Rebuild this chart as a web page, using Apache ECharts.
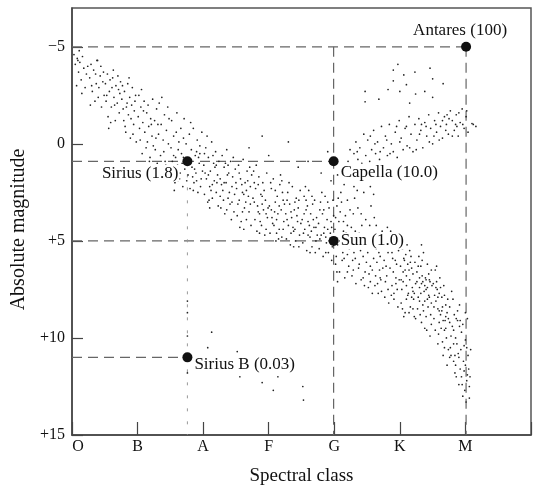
<!DOCTYPE html>
<html><head><meta charset="utf-8">
<script src="https://cdn.jsdelivr.net/npm/echarts@6/dist/echarts.min.js"></script>
<style>html,body{margin:0;padding:0;background:#fff}#c{width:534px;height:491px}</style>
</head><body><div id="c"></div>
<script>
// Spectral classes at x = 0..6
const spectralClasses = ['O','B','A','F','G','K','M'];
const magnitudeTicks = [-5, 0, 5, 10, 15];

// Named stars: [id, label, spectral position, absolute magnitude]
const namedStars = [
  ['Antares','Antares (100)',6.01,-5.0],
  ['Sirius','Sirius (1.8)',1.76,0.9],
  ['Capella','Capella (10.0)',3.99,0.9],
  ['Sun','Sun (1.0)',3.99,5.0],
  ['SiriusB','Sirius B (0.03)',1.76,11.0]
];

// Guide lines (dashed)
const guideLines = [
  [[0,-5],[6.01,-5]],
  [[6.01,-5],[6.01,15]],
  [[3.99,-5],[3.99,15]],
  [[0,0.9],[3.99,0.9]],
  [[0,5],[3.99,5]],
  [[0,11],[1.76,11]]
];
const faintGuideLines = [
  [[1.76,0.9],[1.76,15]]
];

const mainSequence = [
[0.03,-4.6],[0.05,-4.1],[0.08,-4.4],[0.1,-3.7],[0.12,-4.2],[0.14,-3.3],[0.16,-4.5],[0.18,-3.9],[0.2,-2.9],[0.22,-3.6],[0.24,-4.0],[0.07,-3.0],[0.15,-2.6],[0.11,-4.8],[0.38,-4.3],[0.09,-4.3],
[0.27,-3.4],[0.29,-4.1],[0.31,-2.7],[0.33,-3.8],[0.35,-2.2],[0.37,-3.1],[0.39,-4.3],[0.41,-2.9],[0.43,-3.5],[0.45,-1.9],[0.47,-3.2],[0.49,-2.5],[0.28,-2.0],[0.36,-3.6],[0.44,-4.0],[0.30,-3.0],[0.40,-2.4],[0.48,-3.7],
[0.51,-3.1],[0.52,-2.2],[0.54,-3.6],[0.55,-1.4],[0.57,-2.7],[0.58,-3.3],[0.60,-1.9],[0.61,-2.9],[0.63,-3.8],[0.64,-2.4],[0.66,-1.2],[0.67,-3.0],[0.69,-2.1],[0.70,-3.5],[0.72,-1.6],[0.73,-2.6],[0.74,-3.2],[0.53,-2.5],[0.59,-1.1],[0.65,-2.0],[0.71,-2.8],[0.56,-0.8],[0.62,-3.4],
[0.76,-2.3],[0.77,-3.0],[0.79,-1.2],[0.80,-2.7],[0.82,-0.6],[0.83,-1.9],[0.85,-3.1],[0.86,-1.5],[0.88,-2.4],[0.89,-0.3],[0.91,-2.0],[0.92,-2.9],[0.94,-1.0],[0.95,-1.7],[0.97,-2.5],[0.98,-0.1],[0.78,-1.8],[0.84,-2.1],[0.90,-1.3],[0.96,-2.2],[0.81,-0.9],[0.93,-0.5],[0.87,-3.4],
[1.01,-1.4],[1.02,-2.5],[1.04,-0.2],[1.05,-1.9],[1.07,0.5],[1.08,-1.1],[1.10,-2.2],[1.11,-0.6],[1.13,0.2],[1.14,-1.6],[1.16,-2.0],[1.17,-0.9],[1.19,0.7],[1.20,-1.3],[1.22,-0.4],[1.23,-2.3],[1.24,0.1],[1.03,-0.8],[1.09,-1.7],[1.15,-0.1],[1.21,-1.0],[1.06,-2.8],[1.18,0.9],
[1.26,-1.2],[1.27,0.3],[1.29,-1.8],[1.30,1.0],[1.32,-0.5],[1.33,-2.1],[1.35,0.6],[1.36,-1.0],[1.38,1.5],[1.39,-0.2],[1.41,-1.5],[1.42,0.9],[1.44,-0.7],[1.45,1.7],[1.47,0.0],[1.48,-1.3],[1.28,-0.3],[1.34,1.3],[1.40,0.4],[1.46,-1.9],[1.31,-1.0],[1.43,1.1],[1.37,-2.4],
[1.51,0.2],[1.52,-1.2],[1.54,1.4],[1.55,-0.4],[1.57,2.0],[1.58,0.7],[1.60,-1.6],[1.61,1.1],[1.63,-0.1],[1.64,1.8],[1.66,-0.8],[1.67,0.5],[1.69,2.2],[1.70,-0.3],[1.72,1.3],[1.73,0.9],[1.53,0.9],[1.59,-0.6],[1.65,1.5],[1.71,-1.3],[1.56,2.4],[1.62,0.3],[1.68,1.0],[1.74,0.0],
[1.77,1.6],[1.79,-0.5],[1.80,2.3],[1.82,0.3],[1.83,1.2],[1.85,-0.8],[1.86,2.0],[1.88,0.6],[1.89,1.5],[1.91,-0.2],[1.92,2.5],[1.94,1.0],[1.95,0.1],[1.97,1.8],[1.98,-0.6],[1.78,0.8],[1.84,1.7],[1.90,0.4],[1.96,2.2],[1.81,-1.1],[1.87,1.3],[1.93,0.7],[1.99,1.4],
[2.01,1.1],[2.02,2.6],[2.04,0.2],[2.05,1.8],[2.07,3.0],[2.08,0.7],[2.10,2.2],[2.11,1.4],[2.13,-0.1],[2.14,2.8],[2.16,1.0],[2.17,1.9],[2.19,0.4],[2.20,2.5],[2.22,1.6],[2.23,3.2],[2.24,0.9],[2.03,1.5],[2.09,2.9],[2.15,0.6],[2.21,2.0],[2.06,-0.4],[2.12,2.4],[2.18,1.2],
[2.26,1.8],[2.27,3.3],[2.29,0.6],[2.30,2.4],[2.32,1.2],[2.33,3.6],[2.35,2.0],[2.36,0.3],[2.38,2.8],[2.39,1.5],[2.41,3.1],[2.42,0.9],[2.44,2.2],[2.45,1.7],[2.47,3.5],[2.48,2.6],[2.28,2.1],[2.34,1.0],[2.40,2.5],[2.46,0.7],[2.31,2.9],[2.37,1.6],[2.43,3.9],[2.49,1.3],
[2.51,2.3],[2.52,3.7],[2.54,1.1],[2.55,2.9],[2.57,1.8],[2.58,4.0],[2.60,2.5],[2.61,0.8],[2.63,3.3],[2.64,2.0],[2.66,3.9],[2.67,1.4],[2.69,2.7],[2.70,3.5],[2.72,2.2],[2.73,4.2],[2.74,1.6],[2.53,3.1],[2.59,2.1],[2.65,3.0],[2.71,1.2],[2.56,4.3],[2.62,2.6],[2.68,1.9],
[2.76,2.8],[2.77,1.4],[2.79,3.9],[2.80,2.3],[2.82,4.5],[2.83,3.2],[2.85,1.7],[2.86,3.6],[2.88,2.6],[2.89,4.2],[2.91,2.0],[2.92,3.4],[2.94,4.7],[2.95,2.9],[2.97,1.5],[2.98,3.8],[2.78,3.0],[2.84,2.1],[2.90,3.1],[2.96,4.4],[2.81,1.1],[2.87,4.0],[2.93,2.4],[2.99,3.3],
[3.01,3.2],[3.02,4.6],[3.04,2.3],[3.05,3.8],[3.07,1.8],[3.08,4.2],[3.10,3.0],[3.11,5.0],[3.13,2.7],[3.14,3.6],[3.16,4.4],[3.17,2.1],[3.19,3.4],[3.20,4.8],[3.22,2.9],[3.23,4.0],[3.24,3.1],[3.03,2.0],[3.09,3.5],[3.15,4.9],[3.21,2.5],[3.06,4.1],[3.12,3.9],[3.18,1.6],
[3.26,3.6],[3.27,4.9],[3.29,2.5],[3.30,4.2],[3.32,3.1],[3.33,5.2],[3.35,3.8],[3.36,2.2],[3.38,4.5],[3.39,3.4],[3.41,5.0],[3.42,2.8],[3.44,4.0],[3.45,3.3],[3.47,4.7],[3.48,2.4],[3.28,3.9],[3.34,4.6],[3.40,3.0],[3.46,5.3],[3.31,2.0],[3.37,4.3],[3.43,3.7],[3.49,4.1],
[3.51,3.9],[3.52,5.1],[3.54,2.7],[3.55,4.4],[3.57,3.4],[3.58,5.5],[3.60,4.0],[3.61,2.4],[3.63,4.8],[3.64,3.6],[3.66,5.3],[3.67,3.1],[3.69,4.3],[3.70,2.9],[3.72,5.0],[3.73,3.8],[3.53,4.6],[3.59,3.2],[3.65,4.5],[3.71,5.6],[3.56,2.2],[3.62,4.2],[3.68,3.9],[3.74,4.7],
[3.76,4.1],[3.77,5.4],[3.79,3.0],[3.80,4.7],[3.82,3.6],[3.83,5.8],[3.85,4.3],[3.86,2.7],[3.88,5.1],[3.89,3.9],[3.91,5.6],[3.92,3.3],[3.94,4.6],[3.95,4.0],[3.97,5.3],[3.98,2.9],[3.78,4.9],[3.84,3.4],[3.90,4.4],[3.96,6.0],[3.81,2.5],[3.87,4.8],[3.93,5.0],[3.99,3.7],
[4.01,4.4],[4.02,6.2],[4.04,3.2],[4.05,5.2],[4.07,4.0],[4.08,6.6],[4.10,4.8],[4.11,3.0],[4.13,5.6],[4.14,4.5],[4.16,6.9],[4.17,3.7],[4.19,5.0],[4.20,4.2],[4.22,6.3],[4.23,5.4],[4.03,5.8],[4.09,3.5],[4.15,5.9],[4.21,4.7],[4.06,2.8],[4.12,6.0],[4.18,4.6],[4.24,3.4],[4.05,7.1],[4.20,5.7],
[4.26,5.0],[4.27,6.8],[4.29,3.6],[4.30,5.6],[4.32,4.5],[4.33,7.2],[4.35,5.3],[4.36,3.3],[4.38,6.2],[4.39,4.9],[4.41,7.0],[4.42,4.2],[4.44,5.8],[4.45,5.1],[4.47,6.6],[4.48,3.9],[4.28,6.0],[4.34,4.7],[4.40,5.5],[4.46,7.3],[4.31,2.8],[4.37,6.4],[4.43,5.2],[4.49,6.1],[4.30,2.2],[4.45,2.5],
[4.51,5.6],[4.52,7.4],[4.54,4.2],[4.55,6.3],[4.57,5.1],[4.58,7.7],[4.60,5.9],[4.61,3.8],[4.63,6.8],[4.64,5.4],[4.66,7.2],[4.67,4.7],[4.69,6.5],[4.70,5.8],[4.72,7.6],[4.73,4.5],[4.53,6.7],[4.59,5.0],[4.65,6.1],[4.71,7.0],[4.56,3.2],[4.62,7.3],[4.68,5.6],[4.74,6.4],[4.60,2.6],
[4.76,6.0],[4.77,7.9],[4.79,4.9],[4.80,6.8],[4.82,5.6],[4.83,8.2],[4.85,6.4],[4.86,4.5],[4.88,7.3],[4.89,5.9],[4.91,7.7],[4.92,5.2],[4.94,6.9],[4.95,6.2],[4.97,8.4],[4.98,5.5],[4.78,7.1],[4.84,5.3],[4.90,6.6],[4.96,7.5],[4.81,4.3],[4.87,7.8],[4.93,6.0],[4.99,7.0],
[5.01,6.3],[5.02,8.2],[5.04,5.4],[5.05,7.1],[5.07,6.0],[5.08,8.7],[5.10,6.8],[5.11,5.2],[5.13,7.7],[5.14,6.5],[5.16,8.4],[5.17,5.8],[5.19,7.4],[5.20,6.7],[5.22,8.9],[5.23,6.1],[5.03,7.5],[5.09,5.7],[5.15,7.0],[5.21,8.0],[5.06,8.9],[5.12,6.2],[5.18,7.9],[5.24,7.2],[5.05,6.6],[5.15,5.5],[5.20,7.6],[5.10,8.0],
[5.26,6.6],[5.27,8.5],[5.29,5.8],[5.30,7.4],[5.32,6.3],[5.33,9.2],[5.35,7.1],[5.36,5.6],[5.38,8.1],[5.39,6.9],[5.41,9.6],[5.42,6.2],[5.44,7.8],[5.45,7.0],[5.47,8.8],[5.48,6.5],[5.28,7.9],[5.34,6.0],[5.40,7.5],[5.46,9.9],[5.31,8.8],[5.37,7.6],[5.43,8.4],[5.49,7.3],[5.30,6.9],[5.35,8.3],[5.40,7.0],[5.45,7.9],[5.33,7.2],[5.42,7.4],[5.38,9.5],[5.48,8.2],
[5.51,7.2],[5.52,9.0],[5.54,6.5],[5.55,8.1],[5.57,7.5],[5.58,10.3],[5.60,8.6],[5.61,6.9],[5.63,9.5],[5.64,7.9],[5.66,10.9],[5.67,7.3],[5.69,9.1],[5.70,8.3],[5.72,11.4],[5.73,8.0],[5.53,7.8],[5.59,9.8],[5.65,8.4],[5.71,10.0],[5.56,6.3],[5.62,8.8],[5.68,9.6],[5.74,9.0],[5.55,7.4],[5.60,7.7],[5.65,10.2],[5.70,8.9],[5.58,8.5],[5.68,7.8],
[5.76,8.4],[5.77,10.5],[5.79,7.6],[5.80,9.4],[5.82,11.2],[5.83,8.8],[5.85,10.0],[5.86,12.0],[5.88,9.1],[5.89,10.8],[5.91,8.3],[5.92,11.6],[5.94,9.7],[5.78,9.9],[5.81,8.0],[5.84,11.8],[5.87,10.3],[5.90,12.4],[5.93,10.6],[5.76,11.0],[5.82,9.6],[5.88,8.6],[5.91,9.4],[5.85,11.4],
[5.96,9.3],[5.97,11.2],[5.99,12.7],[6.00,10.1],[6.02,12.2],[6.03,9.0],[6.05,11.6],[6.06,13.1],[6.08,10.6],[5.98,10.4],[6.01,13.3],[6.04,10.9],[6.07,12.0],[5.95,12.4],[6.00,8.7],[6.03,11.9],
[1.55,0.6],[1.62,1.9],[1.70,0.7],[1.80,1.0],[1.85,2.4],[1.90,1.9],[1.75,1.9],[1.95,0.5],
[2.02,0.5],[2.08,1.6],[2.14,2.1],[2.20,1.1],[2.26,2.7],[2.32,2.0],[2.38,1.1],[2.44,3.0],[2.50,2.0],[2.10,3.3],[2.36,3.4],
[2.55,1.5],[2.60,3.5],[2.66,2.4],[2.72,3.1],[2.78,2.0],[2.84,3.5],[2.90,2.7],[2.96,3.6],[2.62,4.4],[2.86,4.6],
[3.04,3.4],[3.10,2.4],[3.16,3.2],[3.22,4.4],[3.28,2.9],[3.34,3.5],[3.40,4.4],[3.46,2.9],[3.12,4.6],[3.38,5.3],[3.20,1.9],
[3.54,3.6],[3.60,4.7],[3.66,2.7],[3.72,4.3],[3.78,3.4],[3.84,4.6],[3.90,3.0],[3.96,4.3],[3.63,5.6],[3.87,5.6],[3.57,2.9],
[4.02,3.8],[4.08,5.0],[4.14,4.0],[4.20,6.6],[4.26,4.3],[4.32,5.9],[4.38,4.6],[4.44,6.9],[4.04,6.6],[4.17,5.3],[4.41,3.6],[4.29,6.5],
[4.52,4.8],[4.58,6.5],[4.64,4.2],[4.70,6.9],[4.76,5.2],[4.82,7.5],[4.88,5.6],[4.94,7.2],[4.55,7.1],[4.79,6.3],[4.91,8.0],[4.67,7.7],
[5.02,7.0],[5.06,5.9],[5.10,7.3],[5.14,8.7],[5.18,6.4],[5.22,7.7],[5.26,7.1],[5.30,8.1],[5.34,6.8],[5.38,7.3],[5.42,8.0],[5.46,7.1],[5.04,8.5],[5.12,7.8],[5.20,8.5],[5.28,6.3],[5.36,8.6],[5.44,6.7],[5.48,9.3],[5.32,7.7],[5.40,8.9],[5.24,9.0],[5.16,6.1],[5.08,6.5],
[5.52,8.4],[5.56,7.1],[5.60,9.2],[5.64,8.6],[5.68,10.5],[5.72,8.7],[5.76,9.2],[5.54,9.6],[5.62,7.4],[5.70,9.5],[5.78,10.9],[5.66,9.1],[5.58,7.9],[5.74,10.6],
[5.82,10.3],[5.86,9.0],[5.90,11.0],[5.94,12.0],[5.98,11.7],[6.02,10.5],[6.06,12.5],[5.84,10.9],[5.92,9.1],[6.00,11.4],[5.96,13.0]
];

const giants = [
[4.21,0.9],[4.24,0.3],[4.27,1.1],[4.30,0.5],[4.33,-0.1],[4.36,0.8],[4.39,0.2],[4.42,1.0],[4.45,-0.5],[4.48,0.6],[4.51,-0.2],[4.54,0.9],[4.57,0.3],[4.60,-0.7],[4.63,0.5],[4.66,-0.1],[4.69,0.8],[4.72,-0.9],[4.75,0.2],[4.78,-0.4],[4.81,0.6],[4.84,-1.0],[4.87,0.0],[4.90,0.4],[4.93,-0.6],[4.96,0.7],[4.99,-1.2],[5.02,-0.3],[5.05,0.3],[5.08,-0.8],[5.11,0.1],[5.14,-1.4],[5.17,-0.5],[5.20,0.4],[5.23,-1.0],[5.26,-0.2],[5.29,-1.3],[5.32,-0.7],[5.35,0.2],[5.38,-1.1],[5.41,-0.4],[5.44,-1.5],[5.47,-0.8],[5.50,0.0],[5.53,-1.2],[5.56,-0.6],[5.59,-1.6],[5.62,-0.9],[5.65,-0.3],[5.68,-1.4],[5.71,-1.0],[5.74,-0.5],[5.77,-1.7],[5.80,-1.2],[5.83,-0.7],[5.86,-1.5],[5.89,-0.4],[5.92,-1.1],[5.95,-1.8],[5.98,-0.8],[6.01,-1.4],[6.04,-0.6],[4.35,0.4],[4.55,-0.4],[4.70,0.4],[4.85,0.5],[5.00,-0.1],[5.10,-0.9],[5.25,0.3],[5.30,-0.5],[5.40,-0.9],[5.45,-0.1],[5.55,-1.0],[5.60,-0.2],[5.65,-1.2],[5.70,-0.7],[5.75,-1.3],[5.80,-0.4],[5.85,-1.0],[5.90,-1.6],[5.96,-1.0],[6.02,-1.7],[5.33,-1.0],[5.52,-0.4],[5.72,-1.5],[5.87,-0.9],[4.62,0.0],[4.80,-0.2],[4.95,-0.9],[5.15,0.2],[6.12,-1.0],[6.16,-0.9]
];

const subgiants = [
[4.05,1.6],[4.15,2.1],[4.25,1.5],[4.35,2.4],[4.45,1.8],[4.55,2.2],[4.10,2.5],[4.40,1.4],[3.95,1.9],[4.20,2.9],
[2.7,0.2],[3.0,0.6],[3.3,-0.1],[3.6,0.9],[3.9,0.4],[2.9,-0.4],[3.45,1.2],[3.8,1.5]
];

const supergiants = [
[4.9,-3.8],[4.97,-4.1],[4.9,-3.25],[5.1,-3.05],[4.47,-2.7],[5.0,-2.7],[5.24,-2.57],[4.47,-2.17],[5.15,-2.1],[5.46,-3.9],[5.5,-3.35],[5.66,-3.1],[5.23,-3.7],[5.38,-2.7],[5.06,-3.55],[4.82,-2.8],[4.68,-2.3],[5.5,-2.4],[6.1,-1.05]
];

const whiteDwarfs = [
[1.76,8.1],[1.76,8.7],[2.13,9.7],[1.76,9.9],[2.07,10.5],[2.52,10.7],[1.76,11.8],[2.56,12.0],[2.9,12.3],[3.14,12.0],[3.07,12.7],[3.52,12.5],[3.53,13.2],[5.33,5.2]
];

const chart = echarts.init(document.getElementById('c'), null, {renderer:'canvas'});
const serif = 'Liberation Serif';
const dotStyle = {type:'scatter', symbol:'circle', symbolSize:1.7, itemStyle:{color:'#222', opacity:1}, silent:true, z:2};

const series = [];
guideLines.forEach(seg => series.push({
  type:'line', data:seg, symbol:'none', silent:true, z:1,
  lineStyle:{color:'#666', width:1.2, type:[10,6]}
}));
faintGuideLines.forEach(seg => series.push({
  type:'line', data:seg, symbol:'none', silent:true, z:1,
  lineStyle:{color:'#999', width:1, type:[3,10]}
}));
[mainSequence, giants, subgiants, supergiants, whiteDwarfs].forEach(d => series.push(Object.assign({data:d}, dotStyle)));

const labelCfg = {
  Antares:{position:'top', distance:3, offset:[-6,0]},
  Sirius:{position:'left', distance:3, offset:[0,12]},
  Capella:{position:'right', distance:1, offset:[0,11]},
  Sun:{position:'right', distance:1, offset:[0,0]},
  SiriusB:{position:'right', distance:1, offset:[0,7]}
};
series.push({
  type:'scatter', symbolSize:10, z:5, silent:true,
  itemStyle:{color:'#111', opacity:1},
  data: namedStars.map(s => ({value:[s[2], s[3]], name:s[1],
    label:Object.assign({show:true, formatter:s[1], color:'#111', fontFamily:serif, fontSize:17,
      backgroundColor:'#fff', padding:[0,1]}, labelCfg[s[0]])}))
});

chart.setOption({
  animation:false,
  grid:{left:72, right:3, top:8, bottom:55, show:true, borderColor:'#555', borderWidth:1.5},
  xAxis:{
    type:'value', min:0, max:7, interval:1,
    name:'Spectral class', nameLocation:'middle', nameGap:32,
    nameTextStyle:{fontFamily:serif, fontSize:19, color:'#111'},
    axisLine:{onZero:false, lineStyle:{color:'#444', width:1.5}},
    axisTick:{inside:true, length:13, lineStyle:{color:'#444', width:1.2}},
    splitLine:{show:false},
    axisLabel:{margin:4, fontFamily:serif, fontSize:16, color:'#111',
      formatter:v => v===0 ? '{o|O}' : (spectralClasses[v] || ''),
      rich:{o:{padding:[0,0,0,12], fontFamily:serif, fontSize:16, color:'#111'}}}
  },
  yAxis:{
    type:'value', min:-7, max:15, inverse:true,
    name:'Absolute magnitude', nameLocation:'middle', nameGap:40,
    nameTextStyle:{fontFamily:serif, fontSize:20, color:'#111', padding:[0,16,0,0]},
    axisLine:{onZero:false, lineStyle:{color:'#444', width:1.5}},
    axisTick:{inside:true, length:11, customValues:magnitudeTicks, lineStyle:{color:'#444', width:1.2}},
    splitLine:{show:false},
    axisLabel:{margin:7, fontFamily:serif, fontSize:16, color:'#111', customValues:magnitudeTicks,
      formatter:v => v<0 ? '\u2212'+Math.abs(v) : (v>0 ? '+'+v : '0')}
  },
  series: series
});
</script>
</body></html>
